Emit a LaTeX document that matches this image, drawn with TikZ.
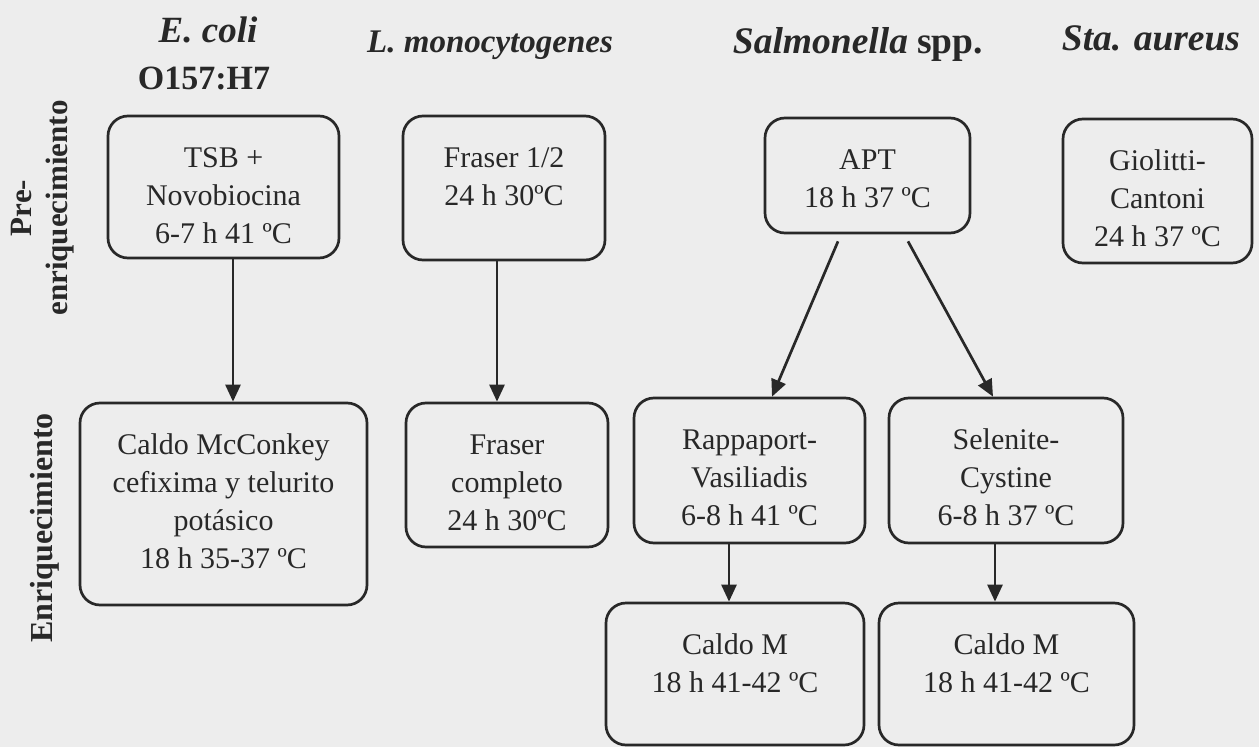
\documentclass[tikz,border=0pt]{standalone}
\usepackage{fontspec}
\setmainfont{Liberation Serif}
\usetikzlibrary{arrows.meta,calc}
\definecolor{bgc}{RGB}{237,237,237}
\definecolor{ink}{RGB}{40,40,40}
\newcommand{\bt}[3]{\parbox[c][#2pt][t]{#1pt}{\centering\rule{0pt}{51pt}#3}}
\tikzset{
  bx/.style={draw=ink, line width=2.7pt, rounded corners=20pt, inner sep=0pt, text=ink,
             font=\fontsize{30}{38}\selectfont},
  arr/.style={draw=ink, line width=2.7pt, -{Triangle[length=17pt,width=15pt]}},
  hdr/.style={text=ink, inner sep=0pt, anchor=base},
  side/.style={text=ink, inner sep=0pt, rotate=90, align=center}
}
\begin{document}
\begin{tikzpicture}[x=1pt,y=-1pt]
\fill[bgc] (0,0) rectangle (1259,747);
\useasboundingbox (0,0) rectangle (1259,747);

% headers
\node[hdr, font=\fontsize{37}{40}\selectfont\bfseries] (h1) at (208,42) {\itshape E. coli};
\node[hdr, font=\fontsize{34}{40}\selectfont\bfseries] (h1b) at (204,89) {O157:H7};
\node[hdr, font=\fontsize{33}{40}\selectfont\bfseries] (h2) at (490,52) {\itshape L. monocytogenes};
\node[hdr, font=\fontsize{37.5}{40}\selectfont\bfseries] (h3) at (858,53) {{\itshape Salmonella} spp.};
\node[hdr, font=\fontsize{37.5}{40}\selectfont\bfseries] (h4) at (1151,50) {\itshape Sta. aureus};

% side labels
\node[side, font=\fontsize{31}{36}\selectfont\bfseries] (s1) at (42.5,208) {Pre-\\enriquecimiento};
\node[side, font=\fontsize{32}{36}\selectfont\bfseries] (s2) at (45,528) {Enriquecimiento};

% boxes
\node[bx] (tsb) at (223.5,187) {\bt{231}{142}{TSB +\\Novobiocina\\6-7 h 41 ºC}};
\node[bx] (fr1) at (504,188) {\bt{202}{144}{Fraser 1/2\\24 h 30ºC}};
\node[bx] (apt) at (867.5,175.5) {\bt{205}{115}{APT\\18 h 37 ºC}};
\node[bx] (gio) at (1157.5,191) {\bt{189}{144}{Giolitti-\\Cantoni\\24 h 37 ºC}};
\node[bx] (mcc) at (223.5,504) {\bt{287}{202}{Caldo McConkey\\cefixima y telurito\\potásico\\18 h 35-37 ºC}};
\node[bx] (frc) at (507,475) {\bt{202}{144}{Fraser\\completo\\24 h 30ºC}};
\node[bx] (rap) at (749.5,470.5) {\bt{231}{145}{Rappaport-\\Vasiliadis\\6-8 h 41 ºC}};
\node[bx] (sel) at (1006,470.5) {\bt{234}{145}{Selenite-\\Cystine\\6-8 h 37 ºC}};
\node[bx] (cm1) at (735,674) {\bt{258}{142}{Caldo M\\18 h 41-42 ºC}};
\node[bx] (cm2) at (1006.5,674) {\bt{255}{142}{Caldo M\\18 h 41-42 ºC}};

% connectors
\coordinate (xa) at (233,0);
\coordinate (xb) at (497,0);
\coordinate (xc) at (729,0);
\coordinate (xd) at (995,0);
\draw[arr] (tsb.south -| xa) -- (mcc.north -| xa);
\draw[arr] (fr1.south -| xb) -- (frc.north -| xb);
\draw[arr] ($(apt.south)+(-29.5,7)$) -- ($(rap.north)+(22.5,0)$);
\draw[arr] ($(apt.south)+(40.5,7)$) -- ($(sel.north)+(-13,0)$);
\draw[arr] (rap.south -| xc) -- (cm1.north -| xc);
\draw[arr] (sel.south -| xd) -- (cm2.north -| xd);
\end{tikzpicture}
\end{document}
